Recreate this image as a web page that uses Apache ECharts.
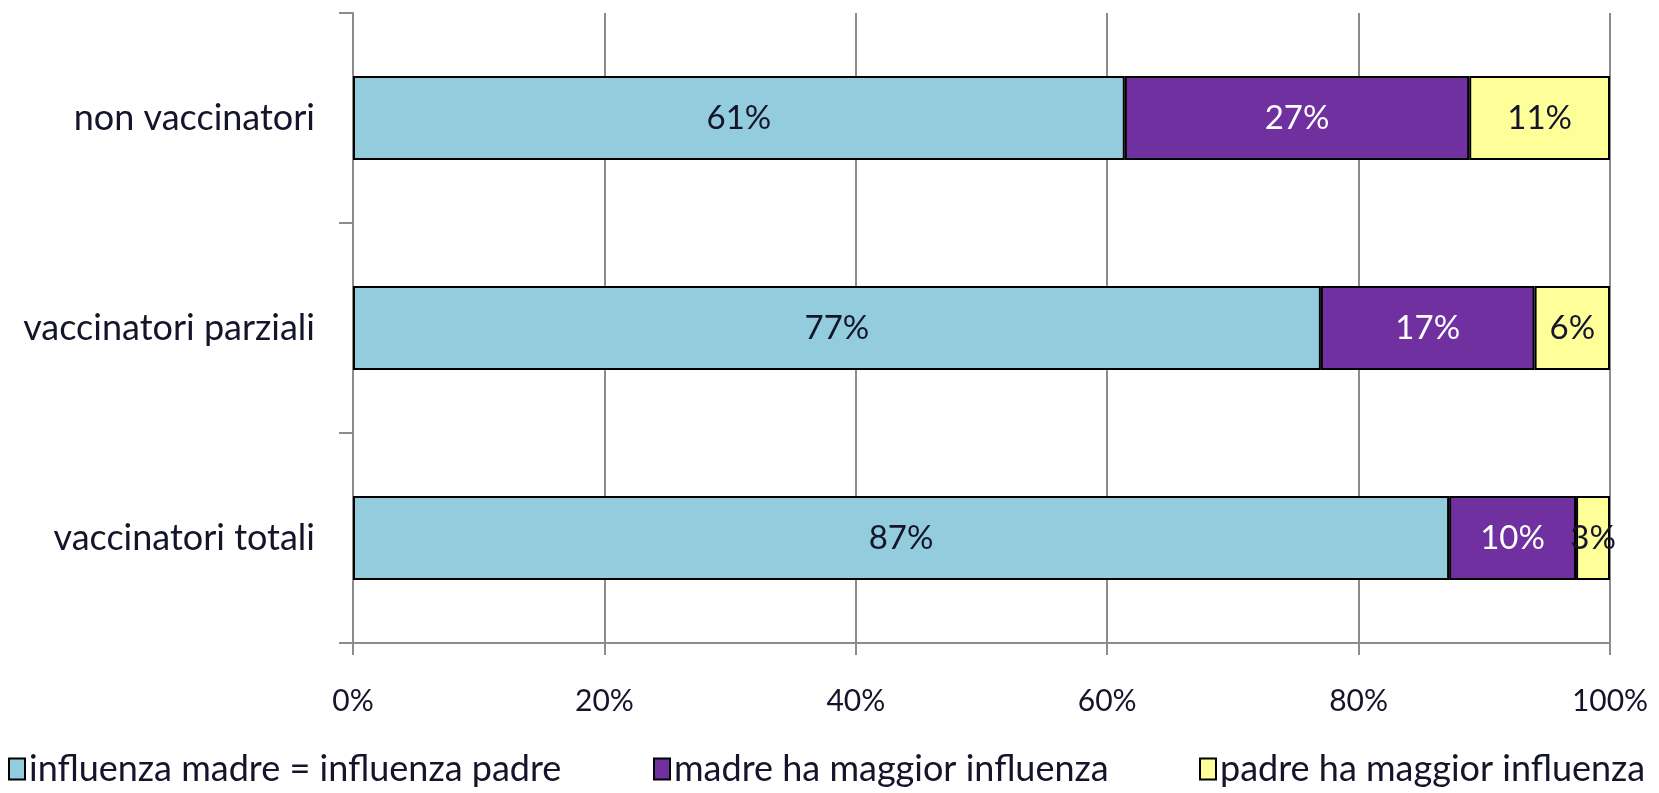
<!DOCTYPE html>
<html>
<head>
<meta charset="utf-8">
<script src="https://cdn.jsdelivr.net/npm/echarts@6/dist/echarts.min.js"></script>
<style>
  html, body { margin: 0; padding: 0; background: #fff; }
  #main { width: 1659px; height: 793px; }
</style>
</head>
<body>
<div id="main"></div>
<script>
// categorie (dall'alto in basso)
var categories = ['non vaccinatori', 'vaccinatori parziali', 'vaccinatori totali'];
var seriesNames = ['influenza madre = influenza padre', 'madre ha maggior influenza', 'padre ha maggior influenza'];
// valori in percentuale per riga
var uguale = [61.4, 77.0, 87.2];
var madre = [27.4, 17.0, 10.1];
var padre = [11.2, 6.0, 2.7];
var xTicks = [0, 20, 40, 60, 80, 100];

var font = 'Lato';
var colors = ['#93CDDD', '#7030A0', '#FFFF99'];
var labelColors = ['#14142a', '#ffffff', '#14142a'];
var legendLeft = [8, 653, 1199];

function makeSeries(idx, data) {
  return {
    name: seriesNames[idx],
    type: 'bar',
    stack: 'tot',
    barWidth: '40%',
    data: data,
    itemStyle: { color: colors[idx], borderColor: '#000', borderWidth: 2 },
    label: {
      show: true,
      position: 'inside',
      color: labelColors[idx],
      fontFamily: font,
      fontSize: 33,
      formatter: function (p) { return Math.round(p.value) + '%'; }
    },
    emphasis: { disabled: true }
  };
}

// una legenda per voce, per piazzarle come nell'originale
var legends = seriesNames.map(function (n, i) {
  return {
    left: legendLeft[i],
    top: 751,
    padding: 0,
    itemWidth: 16,
    itemHeight: 21,
    itemGap: 0,
    icon: 'rect',
    textStyle: { color: '#14142a', fontFamily: font, fontSize: 36, padding: [0, 0, 0, -1] },
    data: [{ name: n, itemStyle: { color: colors[i], borderColor: '#000', borderWidth: 2 } }]
  };
});

var myChart = echarts.init(document.getElementById('main'));
var option = {
  animation: false,
  textStyle: { fontFamily: font },
  grid: { left: 353, right: 49, top: 13, bottom: 150 },
  xAxis: {
    type: 'value',
    min: xTicks[0],
    max: xTicks[xTicks.length - 1],
    interval: 20,
    axisLine: { show: true, lineStyle: { color: '#8c8c8c', width: 2 } },
    axisTick: { show: true, length: 12, lineStyle: { color: '#8c8c8c', width: 2 } },
    splitLine: { show: true, lineStyle: { color: '#8c8c8c', width: 2 } },
    axisLabel: {
      color: '#14142a', fontFamily: font, fontSize: 30, margin: 43,
      formatter: function (v) { return v + '%'; }
    }
  },
  yAxis: {
    type: 'category',
    inverse: true,
    data: categories,
    axisLine: { show: true, lineStyle: { color: '#8c8c8c', width: 2 } },
    axisTick: { show: true, length: 14, lineStyle: { color: '#8c8c8c', width: 2 } },
    axisLabel: { color: '#14142a', fontFamily: font, fontSize: 36, margin: 38 }
  },
  legend: legends,
  series: [makeSeries(0, uguale), makeSeries(1, madre), makeSeries(2, padre)]
};
myChart.setOption(option);
</script>
</body>
</html>
